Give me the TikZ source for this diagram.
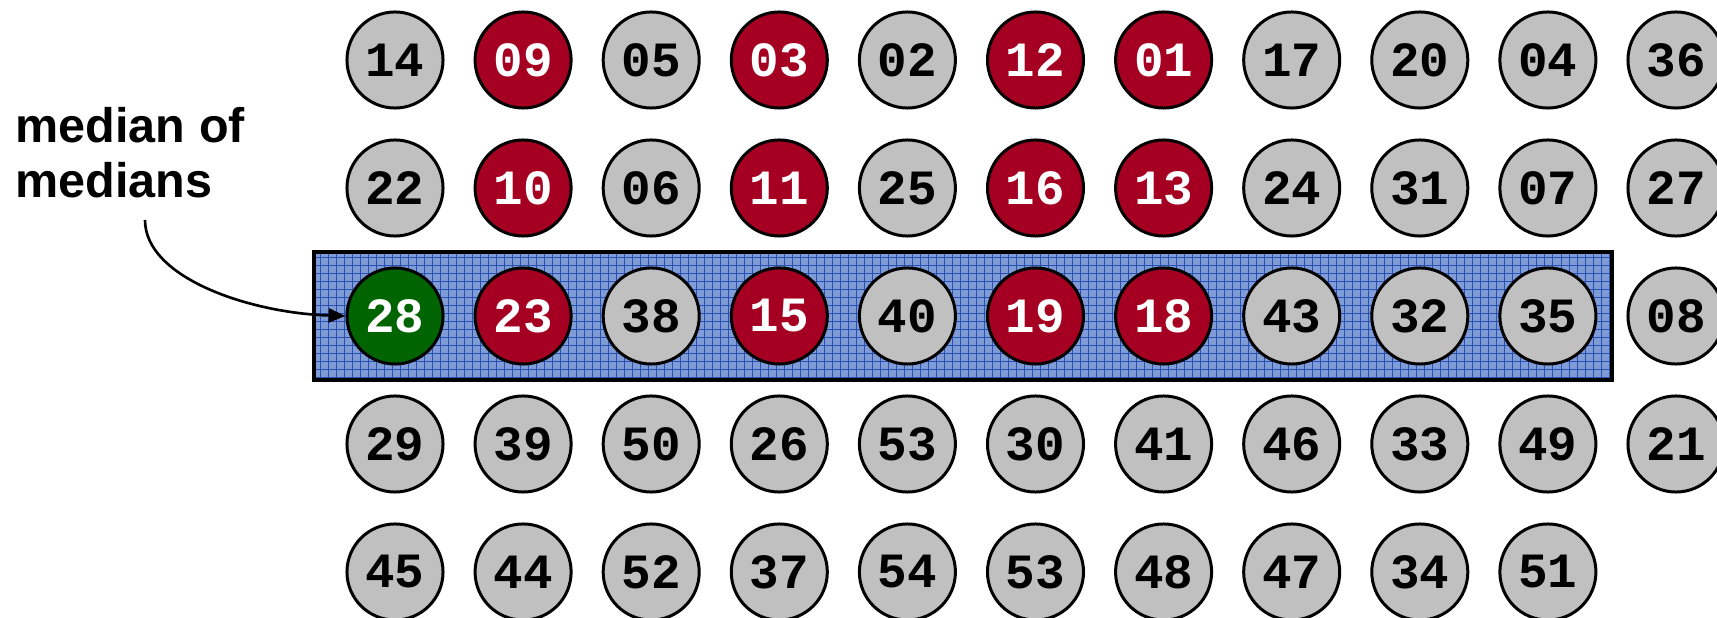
\documentclass[tikz,border=0pt]{standalone}
\usepackage{fontspec}
\usetikzlibrary{arrows.meta}

\newfontfamily\numfont{Liberation Mono}
\newfontfamily\labelfont{Liberation Sans}

\definecolor{cellgray}{HTML}{C0C0C0}
\definecolor{cellred}{HTML}{A50021}
\definecolor{cellgreen}{HTML}{006400}
\definecolor{boxblue}{RGB}{128,156,214}
\definecolor{gridblue}{RGB}{40,80,180}

\tikzset{
    cell/.style={circle, draw=black, line width=0.85pt, minimum size=0.96cm,
        inner sep=0pt, font=\numfont\bfseries\fontsize{14}{16}\selectfont},
    graycell/.style={cell, fill=cellgray, text=black},
    redcell/.style={cell, fill=cellred, text=white},
    greencell/.style={cell, fill=cellgreen, text=white}
}

\begin{document}
\begin{tikzpicture}[x=0.01cm, y=0.01cm]

    \useasboundingbox (0,0) rectangle (1717,618);

    % Medians row box
    \fill[boxblue] (314,238) rectangle (1612,366);
    \begin{scope}
        \clip (314,238) rectangle (1612,366);
        \draw[gridblue, line width=0.25pt, step=0.08cm] (314,238) grid (1612,366);
    \end{scope}
    \draw[line width=1pt] (314,238) rectangle (1612,366);

    % Groups of five
    \foreach \row [count=\j from 0] in {%
        {14/gray,09/red,05/gray,03/red,02/gray,12/red,01/red,17/gray,20/gray,04/gray,36/gray},%
        {22/gray,10/red,06/gray,11/red,25/gray,16/red,13/red,24/gray,31/gray,07/gray,27/gray},%
        {28/green,23/red,38/gray,15/red,40/gray,19/red,18/red,43/gray,32/gray,35/gray,08/gray},%
        {29/gray,39/gray,50/gray,26/gray,53/gray,30/gray,41/gray,46/gray,33/gray,49/gray,21/gray},%
        {45/gray,44/gray,52/gray,37/gray,54/gray,53/gray,48/gray,47/gray,34/gray,51/gray}}{
        \foreach \v/\clr [count=\i from 0] in \row {
            \node[\clr cell] (n\j-\i) at ({395+128.1*\i},{558-128*\j}) {\v};
        }
    }

    % Label
    \node[anchor=base west, align=left, inner sep=0pt,
        font=\labelfont\bfseries\fontsize{13.8}{15.9}\selectfont]
        (mom) at (15,420) {median of\\medians};
    \coordinate (mom-foot) at (145,398);

    \draw[line width=0.75pt, -{Triangle[length=4.8pt,width=4pt]}]
        (mom-foot)
        .. controls (145,340) and (250,305) ..
        (n2-0.west);

\end{tikzpicture}
\end{document}
